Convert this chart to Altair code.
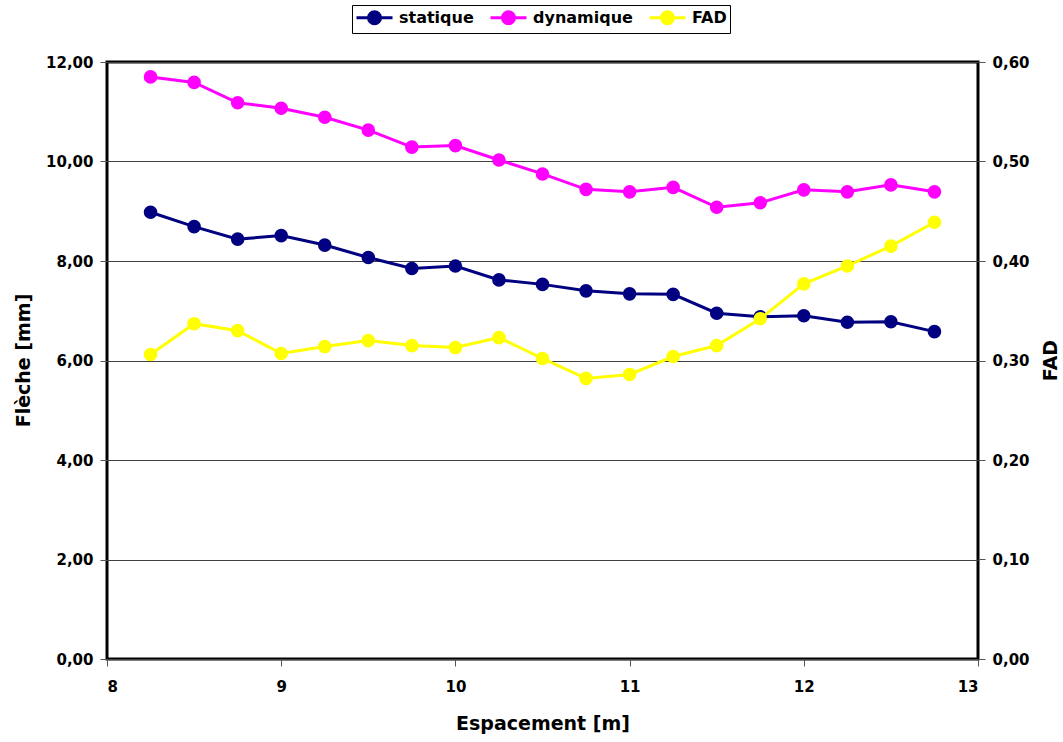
import altair as alt
import pandas as pd

# Espacement des appuis [m]
espacement = [8.25, 8.5, 8.75, 9.0, 9.25, 9.5, 9.75, 10.0, 10.25, 10.5,
              10.75, 11.0, 11.25, 11.5, 11.75, 12.0, 12.25, 12.5, 12.75]
# Flèche [mm]
statique = [8.98, 8.69, 8.44, 8.51, 8.32, 8.07, 7.85, 7.90, 7.62, 7.53,
            7.40, 7.34, 7.33, 6.95, 6.88, 6.90, 6.77, 6.78, 6.58]
dynamique = [11.70, 11.59, 11.18, 11.07, 10.89, 10.63, 10.29, 10.32, 10.03, 9.75,
             9.44, 9.39, 9.48, 9.08, 9.17, 9.43, 9.39, 9.53, 9.39]
# Facteur d'amplification dynamique
fad = [0.306, 0.337, 0.330, 0.307, 0.314, 0.320, 0.315, 0.313, 0.323, 0.302,
       0.282, 0.286, 0.304, 0.315, 0.342, 0.377, 0.395, 0.415, 0.439]

series = ["statique", "dynamique", "FAD"]
colors = ["#000080", "#FF00FF", "#FFFF00"]

x_ticks = [8, 9, 10, 11, 12, 13]
left_ticks = [0, 2, 4, 6, 8, 10, 12]
right_ticks = [0.0, 0.1, 0.2, 0.3, 0.4, 0.5, 0.6]

rows = []
for name, values in [("statique", statique), ("dynamique", dynamique), ("FAD", fad)]:
    for e, v in zip(espacement, values):
        rows.append({"espacement": e, "serie": name, "valeur": v})
df = pd.DataFrame(rows)

FONT = "DejaVu Sans"
comma_fmt = "replace(format(datum.value, '.2f'), '.', ',')"

# symbole de légende : trait horizontal + cercle (unité = 8 px pour size=256)
legend_symbol = "M-1,0L3.5,0M0.5,0A0.75,0.75,0,1,1,2,0A0.75,0.75,0,1,1,0.5,0Z"

stroke_scale = alt.Scale(domain=series, range=colors)
fill_scale = alt.Scale(domain=series, range=colors)
legend = alt.Legend(
    title=None, orient="none", direction="horizontal",
    legendX=245, legendY=-57,
    strokeColor="black", padding=3,
    symbolType=legend_symbol, symbolSize=256, symbolStrokeWidth=3,
    labelFont=FONT, labelFontWeight="bold", labelFontSize=16, labelColor="black",
    labelOffset=25, columnPadding=10,
)

x_enc = alt.X(
    "espacement:Q",
    scale=alt.Scale(domain=[8, 13], nice=False),
    axis=alt.Axis(
        title="Espacement [m]", values=x_ticks, grid=False, domain=False,
        tickSize=7, tickColor="#555555", labelPadding=13,
        labelFont=FONT, labelFontWeight="bold", labelFontSize=15, labelColor="black",
        titleFont=FONT, titleFontWeight="bold", titleFontSize=19, titleColor="black",
        titleY=64, titleBaseline="middle",
    ),
)

left_y = alt.Y(
    "valeur:Q",
    scale=alt.Scale(domain=[0, 12], nice=False),
    axis=alt.Axis(
        title="Flèche [mm]", values=left_ticks, labelExpr=comma_fmt,
        grid=True, gridColor="#404040", gridWidth=1, domain=False,
        tickSize=7, tickColor="#555555", labelPadding=7,
        labelFont=FONT, labelFontWeight="bold", labelFontSize=15, labelColor="black",
        titleFont=FONT, titleFontWeight="bold", titleFontSize=19, titleColor="black",
        titleX=-84, titleY=298, titleBaseline="middle",
    ),
)

right_y = alt.Y(
    "valeur:Q",
    scale=alt.Scale(domain=[0, 0.6], nice=False),
    axis=alt.Axis(
        title="FAD", orient="right", values=right_ticks, labelExpr=comma_fmt,
        grid=False, domain=False,
        tickSize=7, tickColor="#555555", labelPadding=7,
        labelFont=FONT, labelFontWeight="bold", labelFontSize=15, labelColor="black",
        titleFont=FONT, titleFontWeight="bold", titleFontSize=19, titleColor="black",
        titleAngle=270, titleX=72, titleY=298, titleBaseline="middle",
    ),
)


def serie_layer(data_filter, y_enc):
    base = alt.Chart(df).transform_filter(data_filter)
    lines = base.mark_line(strokeWidth=3).encode(
        x=x_enc, y=y_enc,
        stroke=alt.Stroke("serie:N", scale=stroke_scale, legend=legend),
        detail="serie:N",
    )
    points = base.mark_point(filled=True, size=185, opacity=1).encode(
        x=x_enc, y=y_enc,
        fill=alt.Fill("serie:N", scale=fill_scale, legend=legend),
    )
    return alt.layer(lines, points)


left = serie_layer(alt.datum.serie != "FAD", left_y)
right = serie_layer(alt.datum.serie == "FAD", right_y)

chart = (
    alt.layer(left, right)
    .resolve_scale(y="independent")
    .properties(
        width=871, height=597,
        autosize=alt.AutoSizeParams(type="none"),
        padding={"left": 107, "top": 62, "right": 85, "bottom": 83},
        background="white",
    )
    .configure_view(stroke="black", strokeWidth=3)
)

chart.save("out.html", embed_options={"renderer": "svg", "actions": False})
